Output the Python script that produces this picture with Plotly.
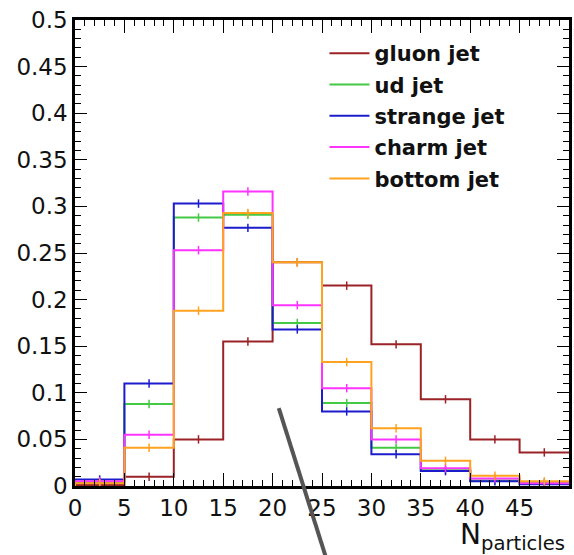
import plotly.graph_objects as go

bin_edges = [0, 5, 10, 15, 20, 25, 30, 35, 40, 45, 50]
bin_centers = [2.5, 7.5, 12.5, 17.5, 22.5, 27.5, 32.5, 37.5, 42.5, 47.5]

gluon = [0.001, 0.010, 0.050, 0.155, 0.240, 0.215, 0.152, 0.093, 0.050, 0.036]
ud = [0.004, 0.088, 0.288, 0.291, 0.175, 0.089, 0.041, 0.017, 0.006, 0.003]
strange = [0.007, 0.110, 0.303, 0.277, 0.168, 0.080, 0.034, 0.016, 0.005, 0.002]
charm = [0.005, 0.055, 0.253, 0.316, 0.194, 0.105, 0.050, 0.019, 0.008, 0.003]
bottom = [0.003, 0.041, 0.188, 0.293, 0.240, 0.133, 0.062, 0.027, 0.011, 0.005]

series = [
    ("gluon jet", gluon, "#9b2226"),
    ("ud jet", ud, "#44c944"),
    ("strange jet", strange, "#1c1ccc"),
    ("charm jet", charm, "#ff33ff"),
    ("bottom jet", bottom, "#ffa21f"),
]

x_ticks = [0, 5, 10, 15, 20, 25, 30, 35, 40, 45]
y_ticks = [0, 0.05, 0.1, 0.15, 0.2, 0.25, 0.3, 0.35, 0.4, 0.45, 0.5]
y_tick_text = ["0", "0.05", "0.1", "0.15", "0.2", "0.25", "0.3", "0.35", "0.4", "0.45", "0.5"]

fig = go.Figure()
for i, (name, vals, col) in enumerate(series):
    xs = [bin_edges[0]] + bin_edges[:-1] + [bin_edges[-1]]
    ys = [0] + vals + [vals[-1]]
    fig.add_trace(go.Scatter(
        x=xs, y=ys, mode="lines", line=dict(color=col, width=2, shape="hv"),
        name=name, legendgroup=name, showlegend=True,
    ))
    fig.add_trace(go.Scatter(
        x=bin_centers, y=vals, mode="markers",
        marker=dict(symbol="line-ns", size=6, line=dict(color=col, width=1.5)),
        legendgroup=name, showlegend=False, hoverinfo="skip",
    ))

axis_common = dict(
    showline=True, linecolor="black", linewidth=2.5, mirror="ticks",
    ticks="inside", tickcolor="black", showgrid=False, zeroline=False,
    tickfont=dict(family="DejaVu Sans", size=23, color="#111"),
)
fig.update_xaxes(
    range=[0, 50], tickvals=x_ticks, ticklen=13, tickwidth=1,
    minor=dict(dtick=1, ticks="inside", ticklen=6, tickcolor="black", tickwidth=1, showgrid=False),
    **axis_common,
)
fig.update_yaxes(
    range=[0, 0.5], tickvals=y_ticks, ticktext=y_tick_text, ticklen=12, tickwidth=1,
    minor=dict(dtick=0.01, ticks="inside", ticklen=6, tickcolor="black", tickwidth=1, showgrid=False),
    **axis_common,
)

fig.add_annotation(
    text="N<sub>particles</sub>", xref="paper", yref="paper", x=0.775, y=-0.064,
    xanchor="left", yanchor="top", showarrow=False,
    font=dict(family="DejaVu Sans", size=28, color="#111"),
)

fig.add_shape(
    type="line", xref="paper", yref="paper", x0=0.4125, y0=0.167, x1=0.51, y1=-0.16,
    line=dict(color="#555555", width=4),
)

fig.update_layout(
    width=574, height=555,
    margin=dict(l=75, r=2, t=20, b=69),
    plot_bgcolor="white", paper_bgcolor="white",
    legend=dict(
        x=0.505, y=0.972, xanchor="left", yanchor="top",
        font=dict(family="DejaVu Sans", size=21, color="#111", weight="bold"),
        bgcolor="rgba(0,0,0,0)", tracegroupgap=1, itemwidth=40,
    ),
)

fig.write_html("out.html")
